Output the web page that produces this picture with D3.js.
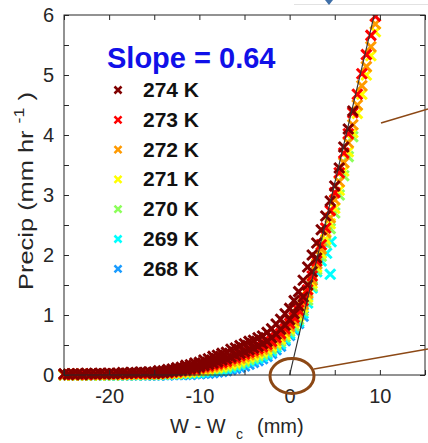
<!DOCTYPE html>
<html>
<head>
<meta charset="utf-8">
<script src="https://cdn.jsdelivr.net/npm/d3@7"></script>
<style>
  body { margin: 0; background: #fff; }
  svg { display: block; font-family: "Liberation Sans", Arial, Helvetica, sans-serif; }
</style>
</head>
<body>
<svg id="chart" width="428" height="443"></svg>
<script>
// W - Wc grid (mm) shared by every temperature bin
const wGrid = [
  -25, -24.5, -24, -23.5, -23, -22.5, -22, -21.5, -21, -20.5,
  -20, -19.5, -19, -18.5, -18, -17.5, -17, -16.5, -16, -15.5,
  -15, -14.5, -14, -13.5, -13, -12.5, -12, -11.5, -11, -10.5,
  -10, -9.5, -9, -8.5, -8, -7.5, -7, -6.5, -6, -5.5,
  -5, -4.5, -4, -3.5, -3, -2.5, -2, -1.5, -1, -0.5,
  0, 0.5, 1, 1.5, 2, 2.5, 3, 3.5, 4, 4.5,
  5, 5.5, 6, 6.5, 7, 7.5, 8, 8.5, 9, 9.5
];

// precip (mm/hr) per temperature bin
const p274 = [
  0.02, 0.01, 0.02, 0.02, 0.01, 0.03, 0.02, 0.02, 0.03, 0.02,
  0.03, 0.02, 0.03, 0.04, 0.03, 0.04, 0.04, 0.05, 0.04, 0.05,
  0.05, 0.07, 0.07, 0.09, 0.10, 0.12, 0.13, 0.16, 0.17, 0.20,
  0.21, 0.25, 0.27, 0.31, 0.33, 0.36, 0.38, 0.43, 0.45, 0.49,
  0.52, 0.56, 0.58, 0.62, 0.65, 0.71, 0.77, 0.85, 0.93, 1.02,
  1.11, 1.24, 1.39, 1.58, 1.80, 2.00, 2.20, 2.42, 2.65, 2.90,
  3.15, 3.45, 3.80, 4.10, 4.40
];
// lower edge of the 274 K cloud, from W = -15 to 3
const p274lowFrom = -15;
const p274low = [
  0.03, 0.04, 0.04, 0.05, 0.06, 0.07, 0.08, 0.09, 0.11, 0.12,
  0.14, 0.16, 0.18, 0.20, 0.22, 0.25, 0.27, 0.30, 0.33, 0.36,
  0.39, 0.42, 0.45, 0.48, 0.52, 0.56, 0.62, 0.68, 0.76, 0.83,
  0.92, 1.02, 1.15, 1.30, 1.50, 1.72, 1.95
];
const p273 = [
  0.01, 0.01, 0.01, 0.02, 0.01, 0.01, 0.02, 0.01, 0.02, 0.02,
  0.02, 0.02, 0.02, 0.03, 0.02, 0.03, 0.03, 0.03, 0.03, 0.03,
  0.03, 0.03, 0.04, 0.04, 0.05, 0.06, 0.07, 0.08, 0.09, 0.10,
  0.12, 0.14, 0.15, 0.17, 0.19, 0.21, 0.23, 0.27, 0.29, 0.32,
  0.35, 0.38, 0.41, 0.44, 0.47, 0.51, 0.56, 0.62, 0.69, 0.77,
  0.86, 0.96, 1.08, 1.24, 1.42, 1.65, 1.90, 2.17, 2.45, 2.74,
  3.04, 3.37, 3.70, 4.02, 4.37, 4.68, 5.02, 5.34, 5.66, 5.98
];
const p272 = [
  0.01, 0.00, 0.01, 0.01, 0.00, 0.01, 0.01, 0.01, 0.01, 0.01,
  0.01, 0.01, 0.02, 0.01, 0.02, 0.02, 0.02, 0.02, 0.02, 0.02,
  0.02, 0.02, 0.03, 0.03, 0.04, 0.04, 0.05, 0.06, 0.07, 0.08,
  0.10, 0.11, 0.12, 0.14, 0.16, 0.18, 0.20, 0.23, 0.25, 0.28,
  0.31, 0.34, 0.37, 0.40, 0.43, 0.47, 0.52, 0.58, 0.65, 0.73,
  0.81, 0.91, 1.03, 1.18, 1.36, 1.58, 1.85, 2.10, 2.37, 2.62,
  2.92, 3.22, 3.54, 3.87, 4.17, 4.50, 4.82, 5.14, 5.47, 5.85
];
const p271 = [
  0.00, 0.01, 0.00, 0.01, 0.01, 0.00, 0.01, 0.01, 0.00, 0.01,
  0.01, 0.01, 0.01, 0.01, 0.01, 0.02, 0.01, 0.02, 0.02, 0.02,
  0.02, 0.02, 0.02, 0.03, 0.03, 0.03, 0.04, 0.05, 0.05, 0.06,
  0.08, 0.09, 0.10, 0.12, 0.13, 0.15, 0.17, 0.19, 0.21, 0.24,
  0.27, 0.30, 0.33, 0.36, 0.39, 0.43, 0.48, 0.54, 0.60, 0.68,
  0.77, 0.87, 0.98, 1.13, 1.30, 1.53, 1.80, 2.03, 2.26, 2.52,
  2.78, 3.08, 3.40, 3.72, 4.04, 4.36, 4.68, 5.00, 5.32, 5.72
];
const p270 = [
  0.00, 0.00, 0.01, 0.00, 0.00, 0.01, 0.00, 0.01, 0.00, 0.01,
  0.01, 0.00, 0.01, 0.01, 0.01, 0.01, 0.01, 0.01, 0.01, 0.01,
  0.01, 0.01, 0.02, 0.02, 0.02, 0.02, 0.03, 0.03, 0.04, 0.05,
  0.06, 0.07, 0.08, 0.10, 0.11, 0.12, 0.14, 0.16, 0.18, 0.20,
  0.23, 0.26, 0.29, 0.32, 0.35, 0.39, 0.44, 0.50, 0.56, 0.64,
  0.73, 0.82, 0.93, 1.07, 1.25, 1.48, 1.76, 1.98, 2.20, 2.44,
  2.70, 3.00, 3.32, 3.64, 3.97
];
const p269 = [
  0.00, 0.00, 0.00, 0.01, 0.00, 0.00, 0.00, 0.01, 0.00, 0.00,
  0.00, 0.01, 0.00, 0.00, 0.01, 0.01, 0.00, 0.01, 0.01, 0.01,
  0.01, 0.01, 0.01, 0.01, 0.02, 0.02, 0.02, 0.02, 0.03, 0.03,
  0.04, 0.05, 0.06, 0.07, 0.08, 0.09, 0.11, 0.13, 0.15, 0.17,
  0.20, 0.23, 0.26, 0.28, 0.31, 0.35, 0.40, 0.46, 0.52, 0.60,
  0.69, 0.78, 0.89, 1.03, 1.20, 1.45, 1.72, 1.90
];
const p268 = [
  0.00, 0.00, 0.00, 0.00, 0.00, 0.00, 0.00, 0.00, 0.00, 0.00,
  0.00, 0.00, 0.00, 0.01, 0.00, 0.00, 0.00, 0.01, 0.00, 0.00,
  0.00, 0.00, 0.01, 0.00, 0.01, 0.01, 0.01, 0.01, 0.01, 0.02,
  0.02, 0.03, 0.03, 0.04, 0.05, 0.06, 0.07, 0.09, 0.11, 0.13,
  0.15, 0.18, 0.21, 0.24, 0.27, 0.31, 0.36, 0.42, 0.48, 0.57,
  0.66, 0.75, 0.86, 0.98
];
// a few 269 K points that fall off the curve
const tail269 = [[4.1, 2.03], [4.5, 1.68], [4.6, 2.22]];

const labels = ['274 K', '273 K', '272 K', '271 K', '270 K', '269 K', '268 K'];
const colors = ['#800000', '#ff0000', '#ff9a00', '#ffff00', '#8cff5a', '#00ffff', '#1a9cff'];
const values = [p274, p273, p272, p271, p270, p269, p268];
const slope = 0.64;

const xTicks = [-25, -20, -15, -10, -5, 0, 5, 10, 15];
const yTicks = [0, 0.5, 1, 1.5, 2, 2.5, 3, 3.5, 4, 4.5, 5, 5.5, 6];

const svg = d3.select('#chart');

const x = d3.scaleLinear().domain([-25, 15]).range([64, 425]);
const y = d3.scaleLinear().domain([0, 6]).range([375, 15]);

const series = labels.map((name, i) => {
  const pts = values[i].map((p, j) => [wGrid[j], p]);
  if (name === '269 K') tail269.forEach(d => pts.push(d));
  return { name, color: colors[i], pts };
});

const lowStart = wGrid.indexOf(p274lowFrom);
const pts274low = p274low.map((p, j) => [wGrid[lowStart + j], p]);

// clip markers to the axes box (they spill a little under the x axis)
svg.append('clipPath').attr('id', 'plot-clip')
  .append('rect')
  .attr('x', 58).attr('y', 15)
  .attr('width', 367).attr('height', 366);

const cross = 'M-5,-5L5,5M-5,5L5,-5';

const gMarks = svg.append('g').attr('clip-path', 'url(#plot-clip)');

const drawCloud = (pts, color) => {
  gMarks.append('g')
    .selectAll('path')
    .data(pts)
    .join('path')
    .attr('d', cross)
    .attr('transform', d => `translate(${x(d[0])},${y(d[1])})`)
    .attr('stroke', color)
    .attr('stroke-width', 3)
    .attr('fill', 'none');
};

// coldest first so the warm bins end up on top
series.slice(1).reverse().forEach(s => drawCloud(s.pts, s.color));
drawCloud(pts274low, series[0].color);
drawCloud(series[0].pts, series[0].color);

// slope line through the origin
svg.append('line')
  .attr('x1', x(0)).attr('y1', y(0))
  .attr('x2', x(6 / slope)).attr('y2', y(6))
  .attr('stroke', '#333')
  .attr('stroke-width', 1.1);

// axes
const axisColor = '#262626';
const styleAxis = g => {
  g.select('.domain').remove();
  g.selectAll('.tick line').attr('stroke', axisColor);
  g.selectAll('.tick text')
    .attr('fill', axisColor)
    .style('font-size', '20px')
    .style('font-family', '"Liberation Sans", Arial, Helvetica, sans-serif');
};

svg.append('g')
  .attr('transform', 'translate(0,375)')
  .call(d3.axisBottom(x).tickValues(xTicks).tickSize(-5).tickPadding(14)
    .tickFormat(d => d % 10 === 0 && d > -25 && d < 15 ? String(d) : ''))
  .call(styleAxis);

svg.append('g')
  .attr('transform', 'translate(0,15)')
  .call(d3.axisTop(x).tickValues(xTicks).tickSize(-5).tickFormat(''))
  .call(styleAxis);

svg.append('g')
  .attr('transform', 'translate(64,0)')
  .call(d3.axisLeft(y).tickValues(yTicks).tickSize(-5).tickPadding(10)
    .tickFormat(d => Number.isInteger(d) ? String(d) : ''))
  .call(styleAxis);

svg.append('g')
  .attr('transform', 'translate(425,0)')
  .call(d3.axisRight(y).tickValues(yTicks).tickSize(-5).tickFormat(''))
  .call(styleAxis);

svg.append('rect')
  .attr('x', 64).attr('y', 15)
  .attr('width', 361).attr('height', 360)
  .attr('fill', 'none')
  .attr('stroke', axisColor)
  .attr('stroke-width', 1);

// axis titles
const xTitle = svg.append('text')
  .attr('x', 170).attr('y', 433)
  .attr('fill', axisColor)
  .style('font-size', '20px');
xTitle.append('tspan').text('W - W');
xTitle.append('tspan').attr('x', 236).attr('dy', 6).style('font-size', '14px').text('c');
xTitle.append('tspan').attr('x', 257).attr('dy', -6).text('(mm)');

const yTitle = svg.append('text')
  .attr('transform', 'translate(33,191) scale(1,1.27) rotate(-90)')
  .attr('text-anchor', 'middle')
  .attr('fill', axisColor)
  .style('font-size', '20px');
yTitle.append('tspan').text('Precip (mm hr ');
yTitle.append('tspan').attr('dy', -9).style('font-size', '14px').text(' -1');
yTitle.append('tspan').attr('dy', 9).text(' )');

// legend
svg.append('text')
  .attr('x', 107).attr('y', 68)
  .attr('fill', '#1010e8')
  .style('font-size', '29px')
  .style('font-weight', 'bold')
  .text('Slope = ' + slope.toFixed(2));

const legend = svg.append('g')
  .selectAll('g')
  .data(series)
  .join('g')
  .attr('transform', (d, i) => `translate(0,${97 + i * 29.8})`);

legend.append('path')
  .attr('d', 'M-3.5,-3.5L3.5,3.5M-3.5,3.5L3.5,-3.5')
  .attr('transform', 'translate(118,-7)')
  .attr('stroke', d => d.color)
  .attr('stroke-width', 2.6);

legend.append('text')
  .attr('x', 143)
  .attr('fill', '#111')
  .style('font-size', '21px')
  .style('font-weight', 'bold')
  .text(d => d.name);

// slide annotations around the panel
const brown = '#8c4815';
svg.append('ellipse')
  .attr('cx', 292).attr('cy', 376)
  .attr('rx', 22).attr('ry', 17.5)
  .attr('fill', 'none')
  .attr('stroke', brown)
  .attr('stroke-width', 3);

svg.append('line')
  .attr('x1', 314).attr('y1', 369).attr('x2', 428).attr('y2', 349)
  .attr('stroke', brown).attr('stroke-width', 1.6);

svg.append('line')
  .attr('x1', 381).attr('y1', 123).attr('x2', 428).attr('y2', 109)
  .attr('stroke', brown).attr('stroke-width', 1.6);

svg.append('line')
  .attr('x1', 294).attr('y1', 4.5).attr('x2', 428).attr('y2', 4.5)
  .attr('stroke', '#e2e2e2').attr('stroke-width', 1);

svg.append('path')
  .attr('d', 'M325,0L329,5L333,0Z')
  .attr('fill', '#3f6fa8');
</script>
</body>
</html>
